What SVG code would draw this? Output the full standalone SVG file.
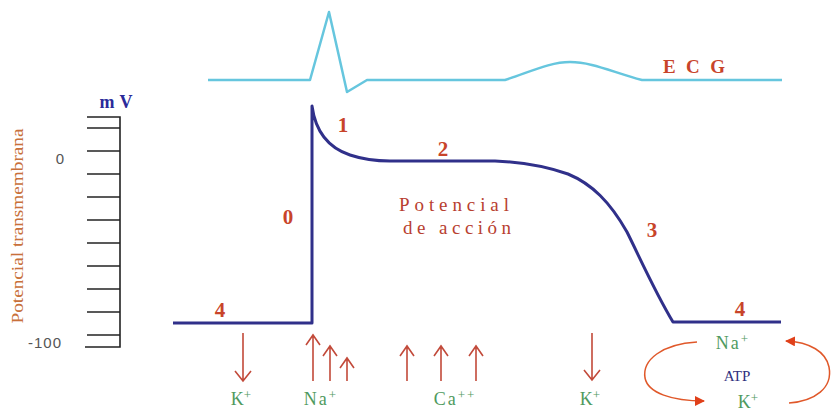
<svg xmlns="http://www.w3.org/2000/svg" width="833" height="412" viewBox="0 0 833 412">
<style>
.num{font-family:"Liberation Serif",serif;font-weight:bold;font-size:21px;fill:#c8442a;text-anchor:middle}
.ion{font-family:"Liberation Serif",serif;font-size:18px;fill:#4f9a5e}
.sup{font-size:13px}
.arr{stroke:#c24a3a;stroke-width:1.6;fill:none}
.tick{stroke:#222;stroke-width:1.6}
.axl{font-family:"Liberation Sans",sans-serif;font-size:15px;fill:#555}
.pump{stroke:#e0582a;stroke-width:1.5;fill:none}
</style>
<defs>
<marker id="pumpHead" viewBox="0 0 10 10" refX="9" refY="5" markerWidth="10" markerHeight="10" orient="auto" markerUnits="userSpaceOnUse">
<path d="M0,0 L10,5 L0,10 z" fill="#e0401a"/>
</marker>
</defs>
<rect width="833" height="412" fill="#fff"/>

<g id="axis">
<path d="M87,117 H120 V347 H85" fill="none" stroke="#222" stroke-width="1.6"/>
<line class="tick" x1="87" y1="128" x2="120" y2="128"/>
<line class="tick" x1="87" y1="151" x2="120" y2="151"/>
<line class="tick" x1="87" y1="174" x2="120" y2="174"/>
<line class="tick" x1="87" y1="197" x2="120" y2="197"/>
<line class="tick" x1="87" y1="220" x2="120" y2="220"/>
<line class="tick" x1="87" y1="243" x2="120" y2="243"/>
<line class="tick" x1="87" y1="266" x2="120" y2="266"/>
<line class="tick" x1="87" y1="289" x2="120" y2="289"/>
<line class="tick" x1="87" y1="312" x2="120" y2="312"/>
<line class="tick" x1="87" y1="335" x2="120" y2="335"/>
<text x="116" y="108" font-family="Liberation Serif,serif" font-weight="bold" font-size="18" fill="#2a2a9a" text-anchor="middle" textLength="33" lengthAdjust="spacing">mV</text>
<text class="axl" x="60" y="164" text-anchor="middle">0</text>
<text class="axl" x="45" y="348" text-anchor="middle" letter-spacing="1">-100</text>
<text transform="translate(23,226) rotate(-90)" font-family="Liberation Serif,serif" font-size="16" fill="#c8703a" text-anchor="middle" textLength="195" lengthAdjust="spacingAndGlyphs">Potencial transmembrana</text>
</g>

<g id="ecg">
<path d="M208,80 H310 L329,12 L347,92 L367,80 H505 C530,72 550,62 570,62 C592,62 612,72 642,80 H782" fill="none" stroke="#66c6de" stroke-width="2.5" stroke-linejoin="round"/>
<text x="694" y="73" font-family="Liberation Serif,serif" font-weight="bold" font-size="19" fill="#c8442a" text-anchor="middle" textLength="62" lengthAdjust="spacing">ECG</text>
</g>

<g id="action-potential">
<path d="M173,323 H312 V106 C315,128 326,147 350,155 C362,159 372,161 390,161 H495 C520,162 542,165 568,174 C592,184 610,202 627,232 C640,258 655,292 673,322 H781" fill="none" stroke="#30308a" stroke-width="3" stroke-linejoin="round"/>
<text x="454" y="211" font-family="Liberation Serif,serif" font-size="19" fill="#b84030" text-anchor="middle" textLength="110" lengthAdjust="spacing">Potencial</text>
<text x="457" y="234" font-family="Liberation Serif,serif" font-size="19" fill="#b84030" text-anchor="middle" textLength="108" lengthAdjust="spacing">de acción</text>
</g>

<g id="phase-labels">
<text class="num" x="288" y="224">0</text>
<text class="num" x="343" y="132">1</text>
<text class="num" x="443" y="156">2</text>
<text class="num" x="652" y="237">3</text>
<text class="num" x="220" y="317">4</text>
<text class="num" x="740" y="316">4</text>
</g>

<g id="connectors">
<path class="arr" d="M243,333 V381 M235,371 L243,381 L251,371"/>
<path class="arr" d="M313,381 V335 M306,345 L313,335 L320,345"/>
<path class="arr" d="M330,381 V346 M323,356 L330,346 L337,356"/>
<path class="arr" d="M347,381 V358 M340,368 L347,358 L354,368"/>
<path class="arr" d="M407,381 V346 M400,356 L407,346 L414,356"/>
<path class="arr" d="M441,381 V346 M434,356 L441,346 L448,356"/>
<path class="arr" d="M476,381 V346 M469,356 L476,346 L483,356"/>
<path class="arr" d="M592,333 V380 M584,370 L592,380 L600,370"/>
<path class="pump" d="M697,342 C662,344 642,360 645,378 C648,393 672,401 704,401" marker-end="url(#pumpHead)"/>
<path class="pump" d="M789,403 C815,401 833,388 829,367 C826,352 810,342 786,341" marker-end="url(#pumpHead)"/>
</g>

<g id="ions">
<text class="ion" x="241" y="405" text-anchor="middle">K<tspan class="sup" dy="-6">+</tspan></text>
<text class="ion" x="321" y="405" text-anchor="middle" letter-spacing="2">Na<tspan class="sup" dy="-6">+</tspan></text>
<text class="ion" x="455" y="405" text-anchor="middle" letter-spacing="2">Ca<tspan class="sup" dy="-6">++</tspan></text>
<text class="ion" x="590" y="405" text-anchor="middle">K<tspan class="sup" dy="-6">+</tspan></text>
<text class="ion" x="733" y="349" text-anchor="middle" letter-spacing="2">Na<tspan class="sup" dy="-6">+</tspan></text>
<text x="737" y="381" font-family="Liberation Serif,serif" font-size="15" fill="#303080" text-anchor="middle">ATP</text>
<text class="ion" x="748" y="408" text-anchor="middle">K<tspan class="sup" dy="-6">+</tspan></text>
</g>
</svg>
